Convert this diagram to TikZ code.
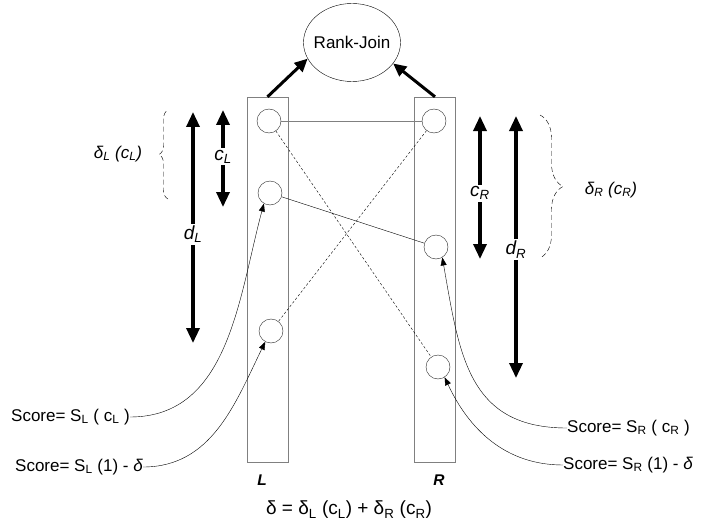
\documentclass[tikz,border=0pt]{standalone}
\usepackage{fontspec}
\setmainfont{Liberation Sans}
\usetikzlibrary{arrows.meta,shapes.geometric,decorations.pathreplacing}

\begin{document}
\begin{tikzpicture}[x=1pt,y=-1pt,font=\fontsize{17}{20}\selectfont,
 col/.style={draw=gray,minimum width=41pt,minimum height=365pt,inner sep=0pt},
 tuple/.style={circle,draw=black!85,minimum size=24pt,inner sep=0pt},
 feed/.style={line width=3pt,-{Triangle[length=13pt,width=12pt]}},
 span/.style={line width=3.3pt,{Triangle[length=15pt,width=13pt]}-{Triangle[length=15pt,width=13pt]}},
 ptr/.style={-{Triangle[length=8pt,width=6pt]}},
 dbrace/.style={dash pattern=on 5pt off 3pt,decorate,decoration={brace,amplitude=#1}},
 lbl/.style={fill=white,inner sep=2pt,font=\fontsize{19}{22}\selectfont\itshape},
 side/.style={font=\fontsize{15.5}{18}\selectfont\bfseries\itshape}]
 \useasboundingbox (0,0) rectangle (713,527);
 % the two ranked inputs
 \node[col] (colL) at (267.5,279.5) {};
 \node[col] (colR) at (435,279.5) {};
 \node[tuple] (l1) at (269,121) {};
 \node[tuple] (l2) at (270,193) {};
 \node[tuple] (l3) at (271,331) {};
 \node[tuple] (r1) at (434,121) {};
 \node[tuple] (r2) at (436,247) {};
 \node[tuple] (r3) at (438,367) {};
 \node[ellipse,draw,minimum width=97pt,minimum height=78pt,inner sep=0pt] (rj) at (352,42.5) {\makebox[60pt]{Rank-Join}};
 \draw[feed] (colL.north) -- (rj.200);
 \draw[feed] (colR.north) -- (rj.333);
 % join pairs
 \draw[gray] (l1) -- (r1);
 \draw (l2) -- (r2);
 \draw[dash pattern=on 2.5pt off 2pt] (l1) -- (r3);
 \draw[dash pattern=on 2.5pt off 2pt] (r1) -- (l3);
 % depths
 \coordinate (cLt) at (223,110);
 \coordinate (cLb) at (223,207);
 \coordinate (dLt) at (193,112);
 \coordinate (dLb) at (193,343);
 \coordinate (cRt) at (480,116);
 \coordinate (cRb) at (480,259);
 \coordinate (dRt) at (516,116);
 \coordinate (dRb) at (516,378);
 \draw[span] (cLt) -- (cLb) node[lbl,pos=0.48] {c\textsubscript{L}};
 \draw[span] (dLt) -- (dLb) node[lbl,pos=0.53] {d\textsubscript{L}};
 \draw[span] (cRt) -- (cRb) node[lbl,pos=0.54] {c\textsubscript{R}};
 \draw[span] (dRt) -- (dRb) node[lbl,pos=0.51] {d\textsubscript{R}};
 \draw[dbrace=9] (168,199) -- (168,110);
 \draw[dbrace=23] (540,115) -- (540,258);
 \node (dLl) at (118,154) {\itshape δ\textsubscript{L} (c\textsubscript{L})};
 \node (dRl) at (611,190) {\itshape δ\textsubscript{R} (c\textsubscript{R})};
 % scores
 \node[anchor=west,inner sep=0pt] (sL1) at (11,417) {Score= S\textsubscript{L} ( c\textsubscript{L} )};
 \node[anchor=west,inner sep=0pt] (sL2) at (15,467) {Score= S\textsubscript{L} (1) - \textit{δ}};
 \node[anchor=west,inner sep=0pt] (sR1) at (567,428) {Score= S\textsubscript{R} ( c\textsubscript{R} )};
 \node[anchor=west,inner sep=0pt] (sR2) at (563,465) {Score= S\textsubscript{R} (1) - \textit{δ}};
 \draw[ptr] (sL1.east) to[out=0,in=-105] (l2.240);
 \draw[ptr] (sL2.east) to[out=0,in=-116] (l3.242);
 \draw[ptr] (sR1.west) to[out=180,in=-80,looseness=1.2] (r2.301);
 \draw[ptr] (sR2.west) to[out=180,in=-65] (r3.303);
 \node[side] (nL) at (262,480) {L};
 \node[side] (nR) at (439,480) {R};
 \node[font=\fontsize{19}{22}\selectfont] (eq) at (349,510) {δ = δ\textsubscript{L} (c\textsubscript{L}) + δ\textsubscript{R} (c\textsubscript{R})};
\end{tikzpicture}
\end{document}
